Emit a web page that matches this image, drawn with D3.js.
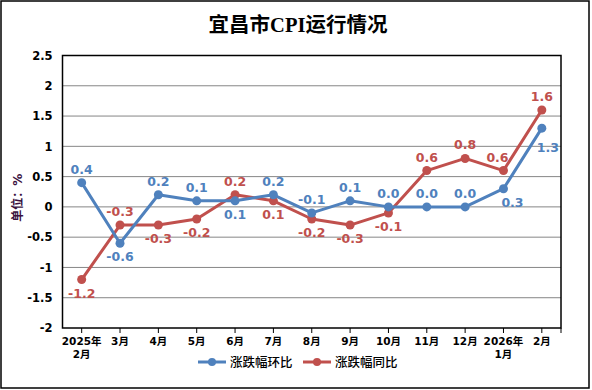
<!DOCTYPE html>
<html lang="zh">
<head>
<meta charset="UTF-8">
<title>宜昌市CPI运行情况</title>
<script src="https://cdn.jsdelivr.net/npm/d3@7/dist/d3.min.js"></script>
<style>
  body { margin: 0; background: #fff; }
  text { font-family: "DejaVu Sans", "Noto Sans CJK SC", sans-serif; }
</style>
</head>
<body>
<div id="main"></div>
<script>
  // 月份（两行标签用 \n 分隔）
  var months = ["2025年\n2月", "3月", "4月", "5月", "6月", "7月", "8月", "9月", "10月", "11月", "12月", "2026年\n1月", "2月"];
  var huanbi = [0.4, -0.6, 0.2, 0.1, 0.1, 0.2, -0.1, 0.1, 0.0, 0.0, 0.0, 0.3, 1.3]; // 涨跌幅环比
  var tongbi = [-1.2, -0.3, -0.3, -0.2, 0.2, 0.1, -0.2, -0.3, -0.1, 0.6, 0.8, 0.6, 1.6]; // 涨跌幅同比
  var yTicks = [2.5, 2, 1.5, 1, 0.5, 0, -0.5, -1, -1.5, -2];

  // 数据标签位置：u 上方，d 下方，r 右下，rr 右下偏低，ul 左上
  var huanbiPos = ["u", "d", "u", "u", "d", "u", "u", "u", "u", "u", "u", "r", "rr"];
  var tongbiPos = ["d", "u", "d", "d", "u", "d", "d", "d", "d", "u", "u", "ul", "u"];

  var width = 592, height = 390;
  var m = { left: 62.5, right: 561, top: 55.5, bottom: 328 };

  var svg = d3.select("#main").append("svg")
    .attr("width", width)
    .attr("height", height);

  // 外框
  svg.append("rect")
    .attr("x", 1).attr("y", 1)
    .attr("width", 588).attr("height", 387)
    .attr("fill", "#fff").attr("stroke", "#000").attr("stroke-width", 1.5);

  // 标题
  svg.append("text")
    .attr("x", 298).attr("y", 32)
    .attr("text-anchor", "middle")
    .style("font-family", "'Liberation Serif', 'Noto Sans CJK SC', serif")
    .style("font-size", "20.5px")
    .style("font-weight", "bold")
    .text("宜昌市CPI运行情况");

  var x = d3.scaleBand().domain(d3.range(months.length)).range([m.left, m.right]);
  var y = d3.scaleLinear().domain([-2, 2.5]).range([m.bottom, m.top]);
  var cx = function (i) { return x(i) + x.bandwidth() / 2; };

  // 网格线
  svg.append("g").selectAll("line").data(yTicks.slice(1, -1)).enter().append("line")
    .attr("x1", m.left).attr("x2", m.right)
    .attr("y1", function (d) { return y(d); })
    .attr("y2", function (d) { return y(d); })
    .attr("stroke", "#868686").attr("stroke-width", 1);

  // 绘图区边框
  svg.append("rect")
    .attr("x", m.left).attr("y", m.top)
    .attr("width", m.right - m.left).attr("height", m.bottom - m.top)
    .attr("fill", "none").attr("stroke", "#000").attr("stroke-width", 1.5);

  // y 轴
  var yAxis = svg.append("g")
    .attr("transform", "translate(" + m.left + ",0)")
    .call(d3.axisLeft(y).tickValues(yTicks).tickSize(0).tickPadding(10)
      .tickFormat(function (d) { return String(d); }));
  yAxis.select(".domain").remove();
  yAxis.selectAll("text")
    .style("font-family", "'DejaVu Sans', sans-serif")
    .style("font-size", "11.5px").style("font-weight", "bold").attr("fill", "#000");

  // x 轴刻度
  svg.append("g").selectAll("line").data(d3.range(months.length + 1)).enter().append("line")
    .attr("x1", function (i) { return i < months.length ? cx(i) : m.right; })
    .attr("x2", function (i) { return i < months.length ? cx(i) : m.right; })
    .attr("y1", m.bottom).attr("y2", m.bottom + 5)
    .attr("stroke", "#000");

  var xl = svg.append("g").selectAll("text").data(months).enter().append("text")
    .attr("text-anchor", "middle")
    .style("font-size", "10.5px").style("font-weight", "bold");
  xl.each(function (d, i) {
    var lines = d.split("\n");
    var t = d3.select(this);
    lines.forEach(function (s, k) {
      t.append("tspan").attr("x", cx(i)).attr("y", 345 + k * 13).text(s);
    });
  });

  // y 轴标题
  svg.append("text")
    .attr("transform", "translate(22," + (y(0.25) + 6) + ") rotate(-90)")
    .attr("text-anchor", "middle")
    .style("font-size", "12px").style("font-weight", "bold")
    .attr("fill", "#3a1240")
    .text("单位：%");

  function drawSeries(values, pos, color) {
    var line = d3.line()
      .x(function (d, i) { return cx(i); })
      .y(function (d) { return y(d); });
    svg.append("path").datum(values)
      .attr("d", line)
      .attr("fill", "none").attr("stroke", color).attr("stroke-width", 3)
      .attr("stroke-linejoin", "round");
    svg.append("g").selectAll("circle").data(values).enter().append("circle")
      .attr("cx", function (d, i) { return cx(i); })
      .attr("cy", function (d) { return y(d); })
      .attr("r", 4.5).attr("fill", color);
    svg.append("g").selectAll("text").data(values).enter().append("text")
      .attr("x", function (d, i) {
        if (pos[i] == "r") return cx(i) + 9;
        if (pos[i] == "rr") return cx(i) + 6;
        if (pos[i] == "ul") return cx(i) - 6;
        return cx(i);
      })
      .attr("y", function (d, i) {
        if (pos[i] == "u" || pos[i] == "ul") return y(d) - 9;
        if (pos[i] == "rr") return y(d) + 24;
        return y(d) + 18;
      })
      .attr("text-anchor", "middle")
      .attr("fill", color)
      .style("font-size", "12.5px").style("font-weight", "bold")
      .text(function (d) { return d.toFixed(1); });
  }

  drawSeries(tongbi, tongbiPos, "#C0504D");
  drawSeries(huanbi, huanbiPos, "#4F81BD");

  // 图例
  var legend = [
    { name: "涨跌幅环比", color: "#4F81BD", x: 198 },
    { name: "涨跌幅同比", color: "#C0504D", x: 303 }
  ];
  var lg = svg.append("g").selectAll("g").data(legend).enter().append("g")
    .attr("transform", function (d) { return "translate(" + d.x + ",362)"; });
  lg.append("line").attr("x1", 0).attr("x2", 28).attr("y1", 0).attr("y2", 0)
    .attr("stroke", function (d) { return d.color; }).attr("stroke-width", 3);
  lg.append("circle").attr("cx", 14).attr("cy", 0).attr("r", 4)
    .attr("fill", function (d) { return d.color; });
  lg.append("text").attr("x", 32).attr("y", 5)
    .style("font-family", "'Noto Sans CJK SC', sans-serif")
    .style("font-size", "12.5px")
    .style("font-weight", "500")
    .text(function (d) { return d.name; });
</script>
</body>
</html>
